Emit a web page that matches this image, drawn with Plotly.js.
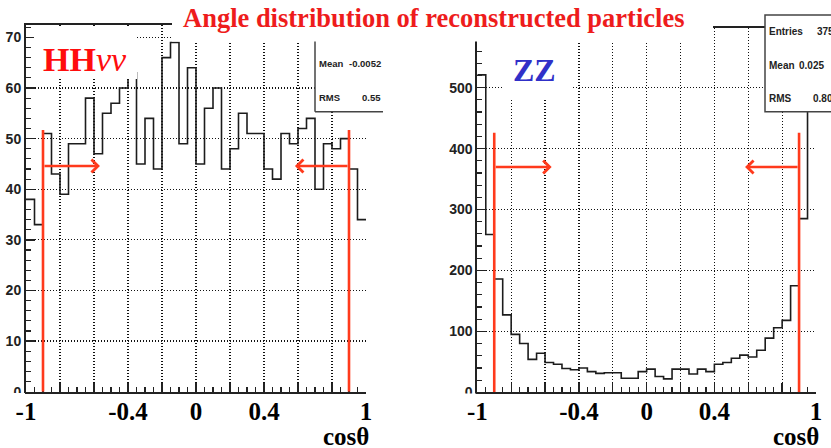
<!DOCTYPE html>
<html>
<head>
<meta charset="utf-8">
<script src="https://cdn.plot.ly/plotly-3.0.1.min.js"></script>
<style>
  html, body { margin: 0; padding: 0; background: #fff; }
  #chart { width: 831px; height: 448px; }
</style>
</head>
<body>
<div id="chart"></div>
<script>
// cos(theta) of reconstructed particles: 40 bins of width 0.05 on [-1, 1]
const binLow = -1;
const binWidth = 0.05;

// HHvv signal sample
const hhCounts = [38, 33, 51, 43, 39, 49, 49, 58, 47, 55,
                  57, 60, 63, 45, 54, 44, 66, 69, 49, 64,
                  45, 56, 60, 44, 48, 55, 51, 51, 44, 42,
                  51, 49, 52, 54, 40, 49, 48, 50, 44, 34];

// ZZ background sample
const zzCounts = [521, 259, 186, 127, 95, 80, 54, 64, 49, 46,
                  39, 37, 40, 34, 31, 32, 32, 23, 23, 34,
                  38, 26, 22, 38, 38, 30, 38, 34, 46, 49,
                  56, 61, 58, 69, 89, 106, 118, 175, 285, 569];

// selection cut |cos(theta)| < 0.9
const cutLow = -0.9;
const cutHigh = 0.9;

// axis ticks
const xTickVals = [-1, -0.8, -0.6, -0.4, -0.2, 0, 0.2, 0.4, 0.6, 0.8, 1];
const xTickText = ['-1', '', '', '-0.4', '', '0', '', '0.4', '', '', '1'];
const hhYTicks = [0, 10, 20, 30, 40, 50, 60, 70];
const zzYTicks = [0, 100, 200, 300, 400, 500];

// statistics box texts
const hhStats = [['Mean', '-0.0052'], ['RMS', '0.55']];
const zzStats = [['Mean', '0.025'], ['RMS', '0.80']];

const W = 831, H = 448;
const px = v => v / W;
const py = v => 1 - v / H;

function stepTrace(counts, xa, ya) {
  const xs = [], ys = [];
  counts.forEach((c, i) => { xs.push(binLow + i * binWidth); ys.push(c); });
  xs.push(binLow + counts.length * binWidth);
  ys.push(counts[counts.length - 1]);
  return {
    type: 'scatter', mode: 'lines', x: xs, y: ys, xaxis: xa, yaxis: ya,
    line: { shape: 'hv', color: '#1c1c1c', width: 1.6 },
    hoverinfo: 'skip', showlegend: false
  };
}

const RED = '#ff3a1c';
const INK = '#222';
const GRID_DASH = '1px,2px';

function xAxis(domain, anchor) {
  return {
    domain: domain, anchor: anchor, range: [binLow, binLow + 40 * binWidth],
    tickmode: 'array', tickvals: xTickVals, ticktext: xTickText,
    ticks: 'inside', ticklen: 9, tickwidth: 1.3, tickcolor: INK,
    minor: { tickmode: 'linear', tick0: -1, dtick: binWidth, ticks: 'inside', ticklen: 5, tickwidth: 1.2, tickcolor: INK, showgrid: false },
    showgrid: true, gridcolor: '#111', gridwidth: 1.2, griddash: GRID_DASH,
    zeroline: false, showline: true, linecolor: INK, linewidth: 2, mirror: true,
    tickfont: { family: 'Liberation Serif', size: 25, weight: 'bold', color: '#000' },
    ticklabelstandoff: -4, fixedrange: true
  };
}

function yAxis(domain, anchor, top, tickvals, minorStep) {
  return {
    domain: domain, anchor: anchor, range: [0, top],
    tickmode: 'array', tickvals: tickvals,
    ticks: 'inside', ticklen: 9, tickwidth: 1.3, tickcolor: INK,
    minor: { tickmode: 'linear', tick0: 0, dtick: minorStep, ticks: 'inside', ticklen: 4.5, tickwidth: 1.2, tickcolor: INK, showgrid: false },
    showgrid: true, gridcolor: '#111', gridwidth: 1.2, griddash: GRID_DASH,
    zeroline: false, showline: true, linecolor: INK, linewidth: 2, mirror: false,
    tickfont: { family: 'Liberation Sans', size: 14, weight: 'bold', color: INK },
    fixedrange: true
  };
}

const hhTop = 1.05 * Math.max(...hhCounts);
const zzTop = 1.05 * Math.max(...zzCounts);

const data = [stepTrace(hhCounts, 'x', 'y'), stepTrace(zzCounts, 'x2', 'y2')];

function whiteBox(x0, y0, x1, y1, line) {
  return {
    type: 'rect', xref: 'paper', yref: 'paper', layer: 'above',
    x0: px(x0), x1: px(x1), y0: py(y1), y1: py(y0),
    fillcolor: '#fff', line: line || { width: 0 }
  };
}
function paperLine(x0, y0, x1, y1) {
  return {
    type: 'line', xref: 'paper', yref: 'paper', layer: 'above',
    x0: px(x0), x1: px(x1), y0: py(y0), y1: py(y1),
    line: { color: '#444', width: 1.5 }
  };
}
function cutLine(xv, yTop, xr, yr) {
  return {
    type: 'line', xref: xr, yref: yr, layer: 'above',
    x0: xv, x1: xv, y0: 0, y1: yTop,
    line: { color: RED, width: 2.6 }
  };
}

const shapes = [
  cutLine(cutLow, 51.7, 'x', 'y'), cutLine(cutHigh, 51.7, 'x', 'y'),
  cutLine(cutLow, 426, 'x2', 'y2'), cutLine(cutHigh, 426, 'x2', 'y2'),
  whiteBox(34, 28, 137, 79),                       // HHvv label panel
  whiteBox(502, 42, 572, 98),                      // ZZ label panel
  whiteBox(315, 20, 383, 111.7),                   // HHvv statistics
  paperLine(315, 20, 315, 111.7), paperLine(315, 111.7, 383, 111.7),
  whiteBox(172, 0, 713, 41.5),                     // heading band
  whiteBox(765, 15, 845, 111.7, { color: '#444', width: 1.5 }), // ZZ statistics
  whiteBox(0, 393, 25, 399), whiteBox(440, 393.5, 476, 399)
];

const statFont = { family: 'Liberation Sans', size: 10, weight: 'bold', color: INK };

function txt(text, x, y, opts) {
  return Object.assign({
    text: text, xref: 'paper', yref: 'paper', x: px(x), y: py(y),
    showarrow: false, xanchor: 'left', yanchor: 'middle',
    font: { family: 'Liberation Sans', size: 9.5, weight: 'bold', color: INK }
  }, opts || {});
}
function arrow(head, tail, level, xr, yr) {
  return {
    xref: xr, yref: yr, axref: xr, ayref: yr,
    x: head, y: level, ax: tail, ay: level, text: '',
    showarrow: true, arrowhead: 4, arrowsize: 1, arrowwidth: 2.5, arrowcolor: RED
  };
}

const serif = (size, color) => ({ family: 'Liberation Serif', size: size, weight: 'bold', color: color });

const annotations = [
  arrow(-0.565, cutLow, 44.6, 'x', 'y'), arrow(0.582, cutHigh, 44.6, 'x', 'y'),
  arrow(-0.561, cutLow, 370, 'x2', 'y2'), arrow(0.581, cutHigh, 370, 'x2', 'y2'),

  txt('<b>HH</b><i>νν</i>', 41, 60, { font: { family: 'Liberation Serif', size: 34, color: '#ff0d0d' } }),
  txt('ZZ', 511, 70, { font: serif(32, '#3030c8') }),

  txt(hhStats[0][0], 317, 63.3), txt(hhStats[0][1], 383, 63.3, { xanchor: 'right' }),
  txt(hhStats[1][0], 317, 97.3), txt(hhStats[1][1], 383, 97.3, { xanchor: 'right' }),

  txt('Entries', 767, 31.5, { font: statFont }),
  txt(String(zzCounts.reduce((a, b) => a + b, 0)), 815, 31.5, { font: statFont }),
  txt(zzStats[0][0], 767, 65.8, { font: statFont }),
  txt(zzStats[0][1], 797, 65.8, { font: statFont }),
  txt(zzStats[1][0], 767, 98.3, { font: statFont }),
  txt(zzStats[1][1], 811, 98.3, { font: statFont }),

  txt('cosθ', 371, 436, { xanchor: 'right', font: serif(25, '#000') }),
  txt('cosθ', 821, 436, { xanchor: 'right', font: serif(25, '#000') }),

  txt('Angle distribution of reconstructed particles', 434, 17.5, { xanchor: 'center', font: serif(26.5, '#ee1c1c') })
];

const layout = {
  width: W, height: H,
  margin: { l: 0, r: 0, t: 0, b: 0 },
  paper_bgcolor: '#fff', plot_bgcolor: '#fff',
  showlegend: false,
  xaxis: xAxis([px(26), px(366)], 'y'),
  yaxis: yAxis([py(391.7), py(25)], 'x', hhTop, hhYTicks, 2),
  xaxis2: xAxis([px(477.3), px(816)], 'y2'),
  yaxis2: yAxis([py(392.3), py(28.3)], 'x2', zzTop, zzYTicks, 20),
  shapes: shapes,
  annotations: annotations
};

Plotly.newPlot('chart', data, layout, { displayModeBar: false, staticPlot: true });
</script>
</body>
</html>
